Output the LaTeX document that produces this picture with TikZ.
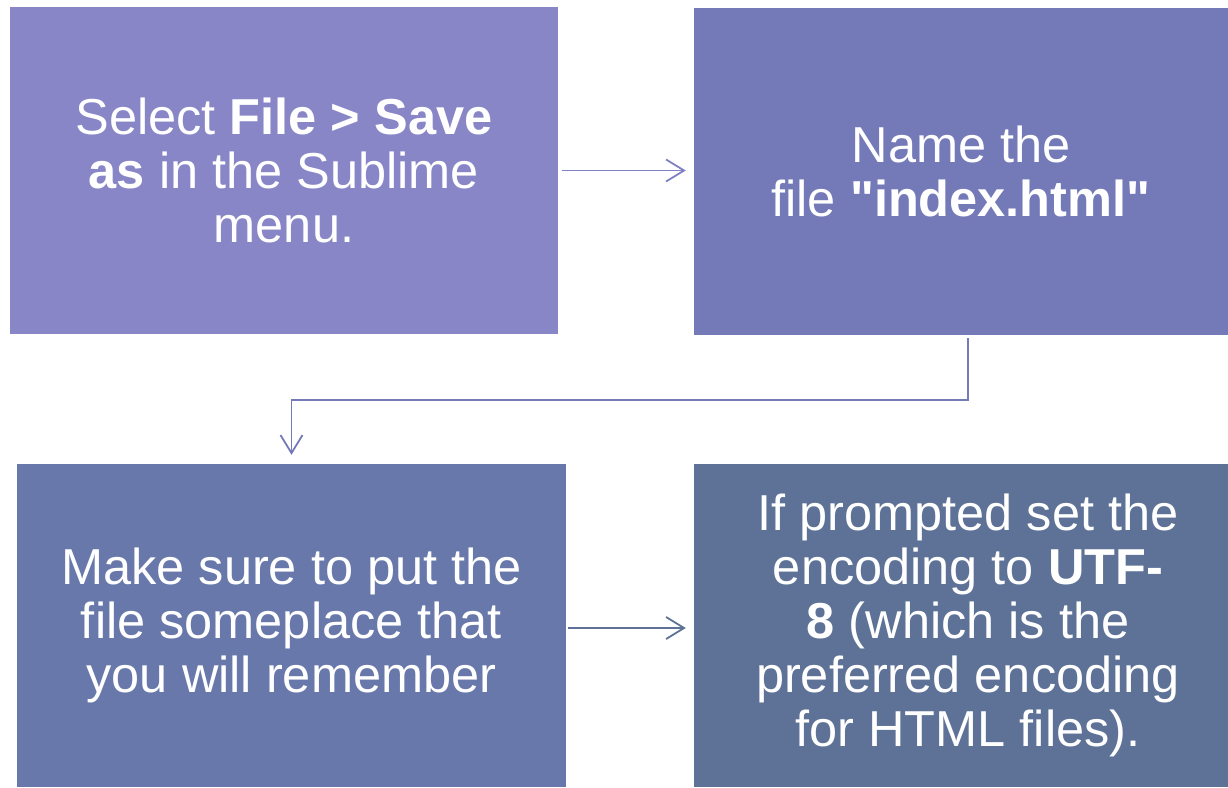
\documentclass[tikz,border=0pt]{standalone}
\usepackage{fontspec}
\setmainfont{Liberation Sans}[Ligatures=TeXOff]
\usetikzlibrary{arrows.meta}
\definecolor{cA}{HTML}{8886C6}
\definecolor{cB}{HTML}{747AB8}
\definecolor{cC}{HTML}{6878AA}
\definecolor{cD}{HTML}{5E7297}
\definecolor{aA}{HTML}{8080C4}
\definecolor{aB}{HTML}{747AB8}
\definecolor{aC}{HTML}{5E7297}
\begin{document}
\begin{tikzpicture}[x=1pt,y=-1pt,
  box/.style={rectangle, inner sep=0pt, align=center, text=white,
    font=\fontsize{50.5}{54}\selectfont},
  txt/.style={inner sep=0pt, align=center, text=white,
    font=\fontsize{50.5}{54}\selectfont},
  conn/.style={line width=1.8pt, -{Straight Barb[length=18pt,width=22pt]}}]
\useasboundingbox (0,0) rectangle (1228,787);
\node[box, fill=cA, minimum width=548pt, minimum height=327pt] (b1) at (284,170.5)
  {Select \textbf{File > Save}\\ \textbf{as} in the Sublime\\ menu.};
\node[box, fill=cB, minimum width=534pt, minimum height=327pt] (b2) at (961,171.5)
  {Name the\\ file \textbf{"index.html"}};
\node[box, fill=cC, minimum width=549pt, minimum height=323pt] (b3) at (291.5,625.5)
  {Make sure to put the\\ file someplace that\\ you will remember};
\node[box, fill=cD, minimum width=534pt, minimum height=323pt] (b4) at (961,625.5) {};
\node[txt] (t4) at ([xshift=7pt]b4.center)
  {If prompted set the\\ encoding to \textbf{UTF-}\\ \textbf{8} (which is the\\ preferred encoding\\ for HTML files).};
\draw[conn, aA, shorten <=4pt, shorten >=8pt] (b1.east) -- (b1.east -| b2.west);
\draw[conn, aB, shorten >=9pt] ([xshift=7pt,yshift=-3pt]b2.south) -- ++(0,62) -| (b3.north);
\draw[conn, aC, shorten <=2pt, shorten >=8pt] ([yshift=-2.5pt]b3.east) -- ([yshift=-2.5pt]b3.east -| b4.west);
\end{tikzpicture}
\end{document}
